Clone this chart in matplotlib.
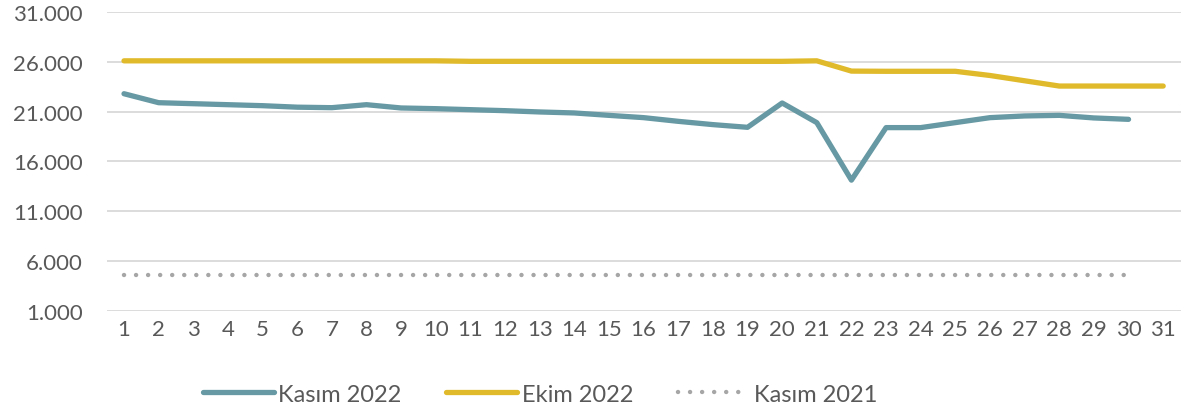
import matplotlib
matplotlib.use("Agg")
import matplotlib.pyplot as plt
from matplotlib.ticker import FuncFormatter

# data
days = list(range(1, 32))
kasim_2022 = [22800, 21900, 21800, 21700, 21600, 21450, 21400, 21700, 21370, 21300,
              21200, 21100, 20970, 20870, 20630, 20400, 20030, 19700, 19430, 21870,
              19900, 14130, 19400, 19400, 19900, 20400, 20570, 20630, 20370, 20230]
ekim_2022 = [26100, 26100, 26100, 26100, 26100, 26100, 26100, 26100, 26100, 26100,
             26050, 26050, 26050, 26050, 26050, 26050, 26050, 26050, 26050, 26050,
             26100, 25070, 25050, 25050, 25050, 24630, 24100, 23570, 23570, 23570,
             23570]
kasim_2021 = [4600] * 30

yticks = [1000, 6000, 11000, 16000, 21000, 26000, 31000]

text_color = "#595959"
plt.rcParams['font.family'] = ['Lato', 'DejaVu Sans']

fig = plt.figure(figsize=[11.88, 4.14], dpi=100)
ax = fig.add_axes([0.0898, 0.2464, 0.9039, 0.7222])

ax.plot(days[:30], kasim_2022, color="#6699A3", lw=3.8, solid_capstyle="round",
        solid_joinstyle="round", label="Kasım 2022", zorder=3)
ax.plot(days, ekim_2022, color="#E0BA2A", lw=3.8, solid_capstyle="round",
        solid_joinstyle="round", label="Ekim 2022", zorder=3)
ax.plot(days[:30], kasim_2021, color="#A6A6A6", lw=3.2, linestyle=(0, (0.01, 2.7)),
        dash_capstyle="round", label="Kasım 2021", zorder=3)

ax.set_xlim(0.5, 31.5)
ax.set_ylim(1000, 31000)
ax.set_xticks(days)
ax.set_yticks(yticks)
ax.yaxis.set_major_formatter(FuncFormatter(lambda v, p: "{:,.0f}".format(v).replace(",", ".")))
ax.grid(axis="y", color="#D9D9D9", lw=1.3, zorder=0)
for s in ax.spines.values():
    s.set_visible(False)
ax.tick_params(length=0, labelsize=16, labelcolor=text_color)
ax.tick_params(axis="y", pad=17)
ax.tick_params(axis="x", pad=6)

leg = ax.legend(loc="center", bbox_to_anchor=(0.4035, -0.278), ncol=3, frameon=False,
                fontsize=17, handlelength=3.0, columnspacing=1.9, handletextpad=0.2)
for t in leg.get_texts():
    t.set_color(text_color)

fig.savefig("out.png", dpi=100)
